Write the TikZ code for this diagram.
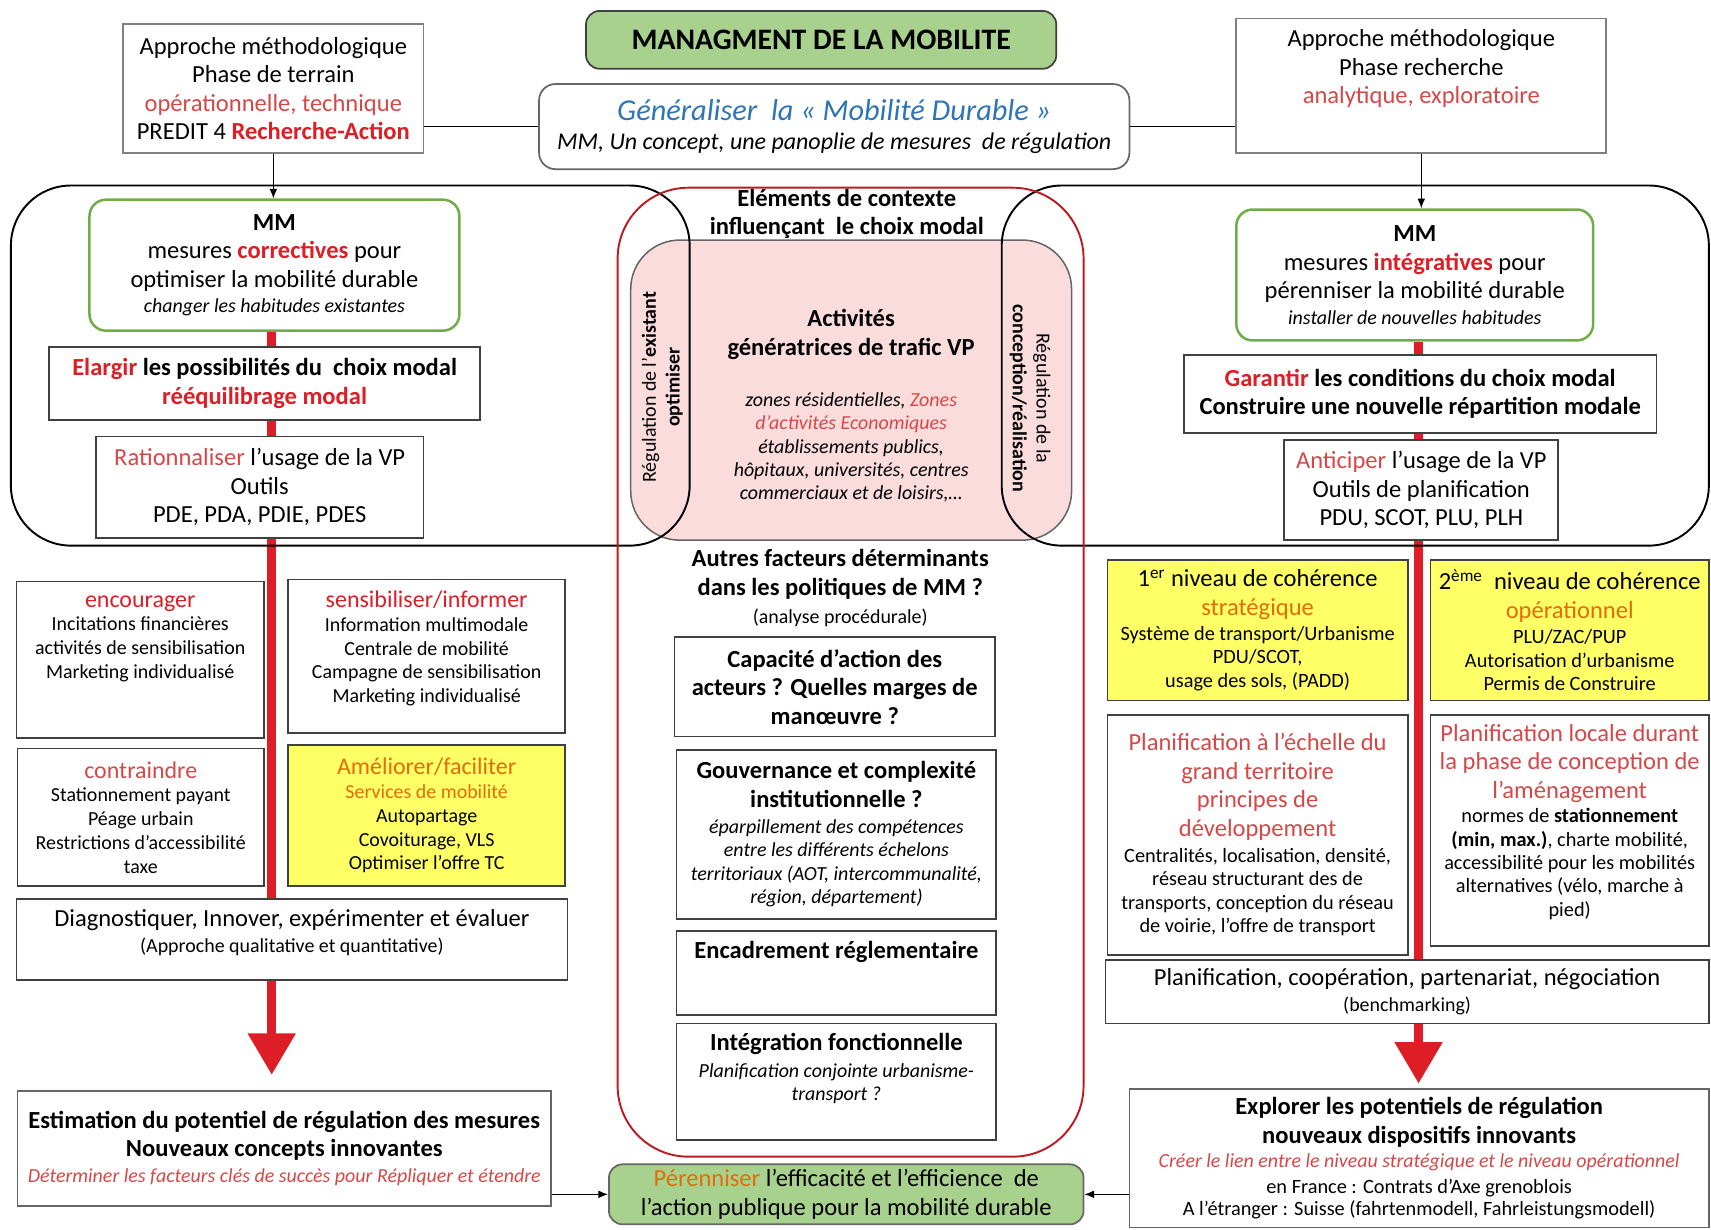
\documentclass[tikz,border=0pt]{standalone}
\usepackage{fontspec}
\setmainfont{Carlito}
\usetikzlibrary{arrows.meta,backgrounds}
\definecolor{mmred}{RGB}{222,30,38}
\definecolor{mmlred}{RGB}{214,72,72}
\definecolor{mmorange}{RGB}{228,108,10}
\definecolor{mmblue}{RGB}{46,117,182}
\definecolor{mmgreen}{RGB}{112,173,71}
\definecolor{mmlgreen}{RGB}{169,209,142}
\definecolor{mmyellow}{RGB}{255,255,102}
\definecolor{mmpink}{RGB}{250,220,220}
\newcommand{\rd}[1]{\textcolor{mmred}{#1}}
\newcommand{\lrd}[1]{\textcolor{mmlred}{#1}}
\newcommand{\orng}[1]{\textcolor{mmorange}{#1}}
\newcommand{\petit}{\fontsize{10.4}{12.4}\selectfont}
\newcommand{\moyen}{\fontsize{10.6}{12.6}\selectfont}
\newcommand{\tete}{\fontsize{12.5}{14}\selectfont}

\begin{document}
\begin{tikzpicture}[x=0.02cm, y=-0.02cm,
            font=\fontsize{12.8}{14.8}\selectfont,
            box/.style={draw=black!75, line width=0.9pt, fill=white, inner sep=0pt, align=center},
            cadre/.style n args={4}{at={({(#1+#3)/2},{(#2+#4)/2})}, minimum width={(#3-#1)*0.02cm}, minimum height={(#4-#2)*0.02cm}},
            mmbox/.style={box, draw=mmgreen, line width=1.3pt, rounded corners=0.3cm},
            jaune/.style={box, fill=mmyellow},
            txt/.style={align=center, inner sep=0pt},
            lift/.style={text depth=#1},
            zone/.style={line width=1pt, rounded corners=1.1cm},
            bar/.style={draw=mmred, line width=0.16cm, -{Triangle[width=0.84cm,length=0.76cm]}},
            fleche/.style={-{Latex[length=5pt,width=4pt]}, line width=0.6pt}]
            \useasboundingbox (0,0) rectangle (1568,1127);

            \node[draw=black!60, fill=mmpink, rounded corners=0.9cm, line width=0.8pt, inner sep=0pt, cadre={578}{220}{982}{495}] (pink) {};
            \draw[zone] (10,170) rectangle (632,500);
            \draw[zone] (918,170) rectangle (1566,500);
            \draw[zone, draw=mmred!85!black, rounded corners=1.3cm] (566,172) rectangle (993,1060);

            \node[box, fill=mmlgreen, rounded corners=0.25cm, cadre={537}{10}{968}{63}, font=\fontsize{15.5}{18}\selectfont\bfseries] (titre) {MANAGMENT DE LA MOBILITE};
            \node[box, draw=black!50, cadre={113}{22}{388}{140}] (terrain) {Approche méthodologique\\Phase de terrain\\\lrd{opérationnelle, technique}\\PREDIT 4 \textbf{\rd{Recherche-Action}}};
            \node[box, draw=black!60, rounded corners=0.3cm, cadre={494}{77}{1035}{155}] (general) {{\fontsize{15.8}{18}\selectfont\itshape\color{mmblue}Généraliser~ la « Mobilité Durable »}\\{\fontsize{12.5}{14.8}\selectfont\itshape MM, Un concept, une panoplie de mesures~ de régulation}};
            \node[box, draw=black!50, cadre={1133}{17}{1472}{140}, lift=0.69cm] (recherche) {Approche méthodologique\\Phase recherche\\\lrd{analytique, exploratoire}};

            \node[mmbox, cadre={82}{183}{421}{303}] (mmL) {\textbf{MM}\\mesures \textbf{\rd{correctives}} pour\\optimiser la mobilité durable\\[-1.5pt]{\petit\itshape changer les habitudes existantes}};
            \node[box, cadre={45}{318}{440}{385}, font=\fontsize{12.8}{14.8}\selectfont\bfseries] (elargir) {\rd{Elargir} les possibilités du~ choix modal\\\rd{rééquilibrage modal}};
            \node[box, cadre={88}{400}{388}{493}] (ration) {\lrd{Rationnaliser} l’usage de la VP\\Outils\\PDE, PDA, PDIE, PDES};

            \node[box, cadre={15}{533}{242}{676}, font=\petit, lift=0.83cm] (encourager) {{\tete\rd{encourager}}\\Incitations financières\\activités de sensibilisation\\Marketing individualisé};
            \node[box, cadre={264}{531}{518}{672}, font=\petit, lift=0.35cm] (sensib) {{\tete\rd{sensibiliser/informer}}\\Information multimodale\\Centrale de mobilité\\Campagne de sensibilisation\\Marketing individualisé};
            \node[box, cadre={16}{686}{242}{812}, font=\petit] (contraindre) {{\tete\lrd{contraindre}}\\Stationnement payant\\Péage urbain\\Restrictions d’accessibilité\\taxe};
            \node[jaune, cadre={264}{683}{518}{812}, font=\petit] (ameliorer) {{\tete\orng{Améliorer/faciliter}}\\\orng{Services de mobilité}\\Autopartage\\Covoiturage, VLS\\Optimiser l’offre TC};
            \node[box, cadre={15}{824}{520}{898}, lift=0.31cm] (diagnostic) {Diagnostiquer, Innover, expérimenter et évaluer\\[-1pt]{\petit (Approche qualitative et quantitative)}};
            \node[box, draw=black!60, cadre={16}{1000}{505}{1105}] (estimation) {\textbf{Estimation du potentiel de régulation des mesures}\\\textbf{Nouveaux concepts innovantes}\\[-1pt]{\petit\itshape\color{mmlred}Déterminer les facteurs clés de succès pour Répliquer et étendre}};

            \node[txt, font=\fontsize{12.8}{14.8}\selectfont\bfseries] (contexte) at (776,196) {Eléments de contexte\\influençant~ le choix modal};
            \node[txt] (activites) at (780,372) {\textbf{Activités}\\\textbf{génératrices de trafic VP}\\[12pt]{\petit\itshape zones résidentielles, \textcolor{mmlred}{Zones}}\\[-2.6pt]{\petit\itshape\color{mmlred}d’activités Economiques}\\[-2.6pt]{\petit\itshape établissements publics,}\\[-2.6pt]{\petit\itshape hôpitaux, universités, centres}\\[-2.6pt]{\petit\itshape commerciaux et de loisirs,…}};
            \node[txt, rotate=90, font=\petit] (optim) at (607,355) {Régulation de l’\textbf{existant}\\\textbf{optimiser}};
            \node[txt, rotate=-90, font=\petit] (concep) at (944,365) {Régulation de la\\\textbf{conception/réalisation}};
            \node[txt] (autres) at (770,539) {\textbf{Autres facteurs déterminants}\\\textbf{dans les politiques de MM ?}\\{\petit (analyse procédurale)}};
            \node[box, cadre={618}{584}{912}{675}, font=\fontsize{12.8}{14.8}\selectfont\bfseries] (capacite) {Capacité d’action des\\acteurs ? Quelles marges de\\manœuvre ?};
            \node[box, cadre={620}{687}{913}{842}] (gouvernance) {\textbf{Gouvernance et complexité}\\\textbf{institutionnelle ?}\\[-1pt]{\petit\itshape éparpillement des compétences}\\[-2.6pt]{\petit\itshape entre les différents échelons}\\[-2.6pt]{\petit\itshape territoriaux (AOT, intercommunalité,}\\[-2.6pt]{\petit\itshape région, département)}};
            \node[box, cadre={620}{853}{913}{930}, lift=0.83cm] (encadrement) {\textbf{Encadrement réglementaire}};
            \node[box, cadre={620}{938}{913}{1045}, lift=0.55cm] (integration) {\textbf{Intégration fonctionnelle}\\[-1pt]{\petit\itshape Planification conjointe urbanisme-}\\[-2.6pt]{\petit\itshape transport ?}};
            \node[box, fill=mmlgreen, draw=black!60, rounded corners=0.25cm, cadre={558}{1067}{993}{1122}] (perenniser) {\orng{Pérenniser} l’efficacité et l’efficience~ de\\l’action publique pour la mobilité durable};

            \node[mmbox, cadre={1133}{192}{1460}{312}] (mmR) {\textbf{MM}\\mesures \textbf{\rd{intégratives}} pour\\pérenniser la mobilité durable\\[-1.5pt]{\petit\itshape installer de nouvelles habitudes}};
            \node[box, cadre={1085}{325}{1518}{397}, font=\fontsize{12.8}{14.8}\selectfont\bfseries] (garantir) {\rd{Garantir} les conditions du choix modal\\Construire une nouvelle répartition modale};
            \node[box, cadre={1177}{403}{1428}{495}] (anticiper) {\lrd{Anticiper} l’usage de la VP\\Outils de planification\\PDU, SCOT, PLU, PLH};
            \node[jaune, cadre={1015}{513}{1290}{642}] (niveauA) {1\textsuperscript{er} niveau de cohérence\\\orng{stratégique}\\[-1.5pt]{\moyen Système de transport/Urbanisme}\\[-2.6pt]{\moyen PDU/SCOT,}\\[-2.6pt]{\moyen usage des sols, (PADD)}};
            \node[jaune, cadre={1311}{513}{1566}{642}] (niveauB) {2\textsuperscript{ème}~ niveau de cohérence\\\orng{opérationnel}\\[-1.5pt]{\moyen PLU/ZAC/PUP}\\[-2.6pt]{\moyen Autorisation d’urbanisme}\\[-2.6pt]{\moyen Permis de Construire}};
            \node[box, cadre={1015}{655}{1290}{875}] (grand) {\lrd{Planification à l’échelle du}\\\lrd{grand territoire}\\\lrd{principes de}\\\lrd{développement}\\[-1pt]{\moyen Centralités, localisation, densité,}\\[-2.6pt]{\moyen réseau structurant des de}\\[-2.6pt]{\moyen transports, conception du réseau}\\[-2.6pt]{\moyen de voirie, l’offre de transport}};
            \node[box, cadre={1311}{655}{1566}{867}, lift=0.37cm] (locale) {\lrd{Planification locale durant}\\\lrd{la phase de conception de}\\\lrd{l’aménagement}\\[-2pt]{\moyen normes de \textbf{stationnement}}\\[-2.6pt]{\moyen\textbf{(min, max.)}, charte mobilité,}\\[-2.6pt]{\moyen accessibilité pour les mobilités}\\[-2.6pt]{\moyen alternatives (vélo, marche à}\\[-2.6pt]{\moyen pied)}};
            \node[box, cadre={1013}{880}{1566}{938}] (cooperation) {Planification, coopération, partenariat, négociation\\[-1.5pt]{\petit (benchmarking)}};
            \node[box, draw=black!60, cadre={1035}{998}{1566}{1125}] (explorer) {\textbf{Explorer les potentiels de régulation}\\\textbf{nouveaux dispositifs innovants}\\[-2pt]{\petit\itshape\color{mmlred}Créer le lien entre le niveau stratégique et le niveau opérationnel}\\[-1.5pt]{\moyen en France : Contrats d’Axe grenoblois}\\[-3pt]{\moyen A l’étranger : Suisse (fahrtenmodell, Fahrleistungsmodell)}};

            \coordinate (pointeL) at (249,985);
            \coordinate (pointeR) at (1300,993);
            \begin{scope}[on background layer]
                \draw[bar] (mmL.south -| pointeL) -- (pointeL);
                \draw[bar] (mmR.south -| pointeR) -- (pointeR);
            \end{scope}

            \draw[fleche] (terrain.south) -- (terrain.south |- mmL.north);
            \draw[fleche] (recherche.south) -- (recherche.south |- mmR.north);
            \draw[line width=0.6pt] (terrain.east |- general.west) -- (general.west);
            \draw[line width=0.6pt] (general.east) -- (general.east -| recherche.west);
            \draw[fleche] (estimation.east |- perenniser.west) -- (perenniser.west);
            \draw[fleche] (explorer.west |- perenniser.east) -- (perenniser.east);
        \end{tikzpicture}
\end{document}
